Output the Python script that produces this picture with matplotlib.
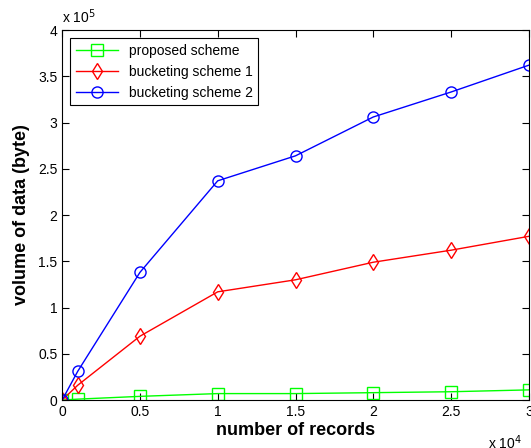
import numpy as np
import matplotlib.pyplot as plt

plt.rcParams['font.family'] = ['Liberation Sans', 'DejaVu Sans']

records = [0, 1000, 5000, 10000, 15000, 20000, 25000, 30000]
proposed = [0, 1000, 4000, 7000, 7000, 8000, 9000, 11000]
bucket1 = [0, 16000, 69000, 117000, 130000, 149000, 162000, 177000]
bucket2 = [0, 31000, 138000, 237000, 264000, 306000, 333000, 362000]

x = np.array(records) / 1e4

fig = plt.figure(figsize=(5.31, 4.48), dpi=100)
ax = fig.add_axes([0.117, 0.107, 0.879, 0.826])

ax.plot(x, np.array(proposed) / 1e5, color='#00ff00', marker='s', mfc='none',
        ms=8, lw=1, label='proposed scheme')
ax.plot(x, np.array(bucket1) / 1e5, color='#ff0000', marker='d', mfc='none',
        ms=8, lw=1, label='bucketing scheme 1')
ax.plot(x, np.array(bucket2) / 1e5, color='#0000ff', marker='o', mfc='none',
        ms=8, lw=1, label='bucketing scheme 2')

ax.set_xlim(0, 3)
ax.set_ylim(0, 4)
ax.set_xticks([0, 0.5, 1, 1.5, 2, 2.5, 3])
ax.set_xticklabels(['0', '0.5', '1', '1.5', '2', '2.5', '3'])
ax.set_yticks([0, 0.5, 1, 1.5, 2, 2.5, 3, 3.5, 4])
ax.set_yticklabels(['0', '0.5', '1', '1.5', '2', '2.5', '3', '3.5', '4'])
ax.tick_params(direction='in', top=True, right=True, labelsize=10, length=5)

ax.set_xlabel('number of records', fontsize=13, fontweight='bold', labelpad=2)
ax.set_ylabel('volume of data (byte)', fontsize=13, fontweight='bold', labelpad=6)

ax.text(0.0, 1.01, 'x 10$^5$', transform=ax.transAxes, fontsize=10,
        ha='left', va='bottom')
ax.text(0.985, -0.09, 'x 10$^4$', transform=ax.transAxes, fontsize=10,
        ha='right', va='top')

leg = ax.legend(loc='upper left', fontsize=10, fancybox=False, framealpha=1,
                edgecolor='black', borderaxespad=0.6, handlelength=3)
leg.get_frame().set_linewidth(0.8)

fig.savefig('out.png', dpi=100)
